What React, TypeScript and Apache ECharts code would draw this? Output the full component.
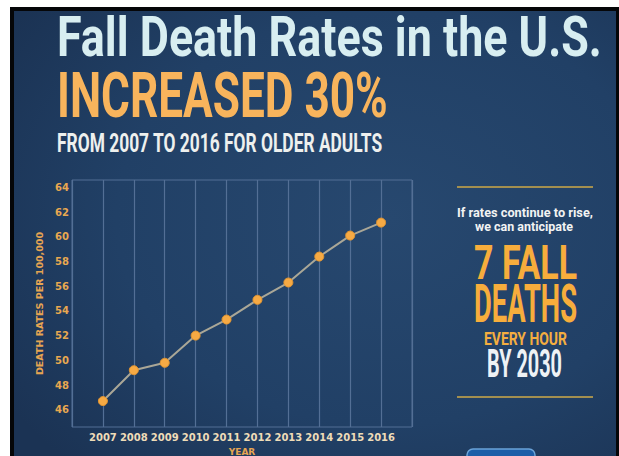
import React, { useEffect, useRef } from "react";
import * as echarts from "echarts";

const years = [2007, 2008, 2009, 2010, 2011, 2012, 2013, 2014, 2015, 2016];
const deathRates = [46.7, 49.2, 49.8, 52.0, 53.3, 54.9, 56.3, 58.4, 60.1, 61.15];
const yTickLabels = [46, 48, 50, 52, 54, 56, 58, 60, 62, 64];
const titleText = "Fall Death Rates in the U.S.";
const headlineText = "INCREASED 30%";
const subtitleText = "FROM 2007 TO 2016 FOR OLDER ADULTS";
const sideTexts = ["If rates continue to rise,", "we can anticipate", "7 FALL", "DEATHS", "EVERY HOUR", "BY 2030"];

function measure(text: string, size: number, family: string, weight = "bold") {
  const c = document.createElement("canvas");
  const ctx = c.getContext("2d")!;
  ctx.font = `${weight} ${size}px ${family}`;
  return ctx.measureText(text).width;
}

function fitText(
  text: string,
  opts: { x: number; cy: number; width: number; size: number; color: string; align: "left" | "center"; family?: string; weight?: string }
) {
  const family = opts.family || "Roboto";
  const weight = opts.weight || "bold";
  const w = measure(text, opts.size, family, weight);
  const sx = opts.width / w;
  return {
    type: "text",
    x: opts.x,
    y: opts.cy,
    scaleX: sx,
    scaleY: 1,
    z: 20,
    silent: true,
    style: {
      text,
      x: 0,
      y: 0,
      fill: opts.color,
      fontSize: opts.size,
      fontWeight: weight,
      fontFamily: family,
      align: opts.align,
      textAlign: opts.align,
      verticalAlign: "middle",
      textVerticalAlign: "middle",
    },
  };
}

export default function App() {
  const ref = useRef<HTMLDivElement>(null);
  useEffect(() => {
    if (!ref.current) return;
    const chart = echarts.init(ref.current, null, { renderer: "svg" });
    const graphics: any[] = [
      { type: "rect", z: -10, silent: true, shape: { x: 0, y: 0, width: 619, height: 456 }, style: { fill: "#ffffff" } },
      { type: "rect", z: -9, silent: true, shape: { x: 10, y: 7, width: 609, height: 460 }, style: { fill: "#050608" } },
      {
        type: "rect",
        z: -8,
        silent: true,
        shape: { x: 14, y: 11, width: 602, height: 460 },
        style: {
          fill: new echarts.graphic.RadialGradient(0.62, 0.45, 0.75, [
            { offset: 0, color: "#27486f" },
            { offset: 0.6, color: "#214066" },
            { offset: 1, color: "#1b3354" },
          ]),
        },
      },
      fitText(titleText, { x: 57, cy: 37, width: 545, size: 56, color: "#d8eef1", align: "left" }),
      fitText(headlineText, { x: 57, cy: 95.5, width: 331, size: 63, color: "#f8b45c", align: "left" }),
      fitText(subtitleText, { x: 57, cy: 143, width: 326, size: 25, color: "#eef0ee", align: "left" }),
      { type: "line", z: 20, silent: true, shape: { x1: 457, y1: 187, x2: 593, y2: 187 }, style: { stroke: "#a38f4f", lineWidth: 2 } },
      { type: "line", z: 20, silent: true, shape: { x1: 457, y1: 397, x2: 593, y2: 397 }, style: { stroke: "#a38f4f", lineWidth: 2 } },
      fitText(sideTexts[0], { x: 525, cy: 213, width: 136, size: 12, color: "#f2f3f3", align: "center" }),
      fitText(sideTexts[1], { x: 524, cy: 227, width: 98, size: 12, color: "#f2f3f3", align: "center" }),
      fitText(sideTexts[2], { x: 525.5, cy: 262.5, width: 103, size: 49, color: "#f7ad3c", align: "center" }),
      fitText(sideTexts[3], { x: 525.5, cy: 304, width: 103, size: 53, color: "#f7ad3c", align: "center" }),
      fitText(sideTexts[4], { x: 525.5, cy: 338.5, width: 83, size: 18, color: "#f4ae40", align: "center" }),
      fitText(sideTexts[5], { x: 524.5, cy: 363.5, width: 75, size: 38, color: "#eef2f5", align: "center" }),
      {
        type: "rect",
        z: 20,
        silent: true,
        shape: { x: 467, y: 449, width: 68, height: 20, r: 6 },
        style: { fill: "#1d5ea8", stroke: "#6aa3d8", lineWidth: 1.5 },
      },
    ];

    chart.setOption({
      animation: false,
      graphic: { elements: graphics },
      grid: {
        left: 72,
        right: 207,
        top: 180,
        bottom: 29,
        show: true,
        borderColor: "#536f95",
        borderWidth: 1,
        backgroundColor: "transparent",
        containLabel: false,
        outerBoundsMode: "none",
      },
      xAxis: {
        type: "value",
        min: 2006,
        max: 2017,
        interval: 1,
        name: "YEAR",
        nameLocation: "middle",
        nameGap: 20,
        nameTextStyle: { color: "#e6a552", fontFamily: "DejaVu Sans", fontWeight: "bold", fontSize: 9 },
        axisLine: { show: false },
        axisTick: { show: false },
        axisLabel: {
          margin: 5,
          color: "#eedcb8",
          fontFamily: "DejaVu Sans",
          fontWeight: "bold",
          fontSize: 10,
          formatter: (v: number) => (years.includes(v) ? String(v) : ""),
        },
        splitLine: { show: true, lineStyle: { color: "#536f95", width: 1.2 } },
      },
      yAxis: {
        type: "value",
        min: 44.6,
        max: 64.6,
        splitNumber: 10,
        name: "DEATH RATES PER 100,000",
        nameLocation: "middle",
        nameGap: 27,
        nameTextStyle: { color: "#e6a552", fontFamily: "DejaVu Sans", fontWeight: "bold", fontSize: 9.5 },
        axisLine: { show: false },
        axisTick: { show: false },
        splitLine: { show: false },
        axisLabel: {
          margin: 3,
          color: "#e8a850",
          fontFamily: "DejaVu Sans",
          fontWeight: "bold",
          fontSize: 10,
          formatter: (v: number) => (yTickLabels.includes(v) ? String(v) : ""),
        },
      },
      series: [
        {
          type: "line",
          data: years.map((y, i) => [y, deathRates[i]]),
          symbol: "circle",
          symbolSize: 9,
          lineStyle: { color: "#aaa797", width: 2 },
          itemStyle: { color: "#f6aa44", borderColor: "#e39530", borderWidth: 1 },
          z: 5,
        },
      ],
    });
    return () => chart.dispose();
  }, []);
  return <div ref={ref} style={{ position: "absolute", left: 0, top: 0, width: 619, height: 456 }} />;
}
